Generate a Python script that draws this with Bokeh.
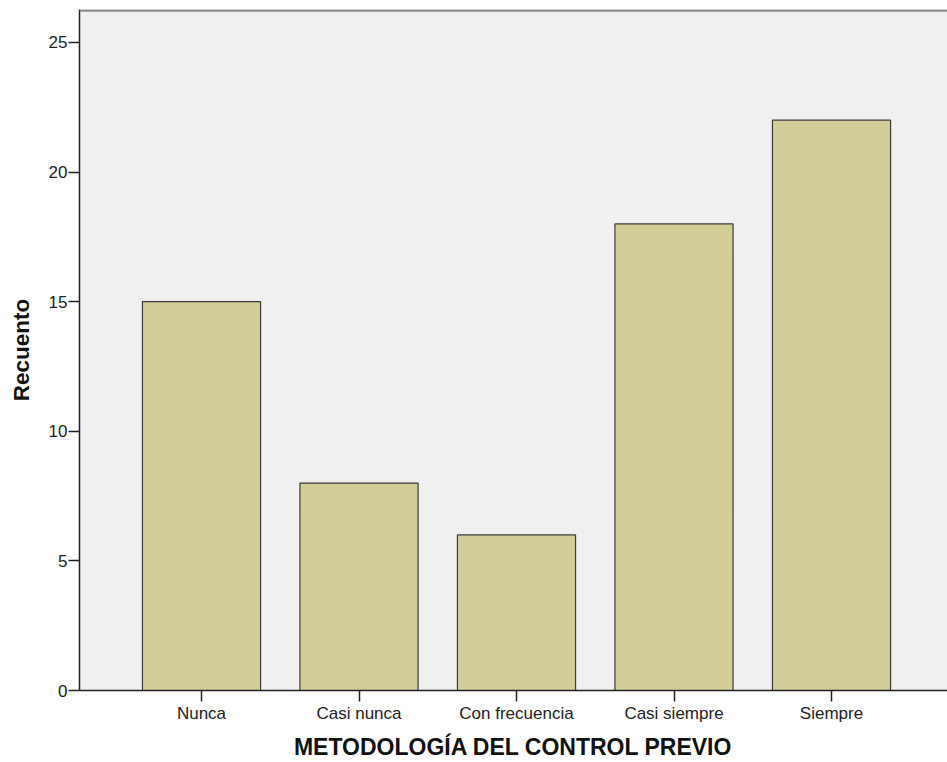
from bokeh.plotting import figure
from bokeh.models import ColumnDataSource, FixedTicker, Range1d, Span
from bokeh.embed import file_html
from bokeh.resources import INLINE

categories = ["Nunca", "Casi nunca", "Con frecuencia", "Casi siempre", "Siempre"]
counts = [15, 8, 6, 18, 22]
positions = [1, 2, 3, 4, 5]
y_ticks = [0, 5, 10, 15, 20, 25]

src = ColumnDataSource(dict(x=positions, top=counts))

p = figure(width=947, height=762, output_backend="svg", toolbar_location=None,
           x_range=Range1d(0.2254, 5.7365), y_range=Range1d(0, 26.27),
           min_border_left=79, min_border_right=0, min_border_top=9, min_border_bottom=72)

p.background_fill_color = "#F0F0F0"
p.border_fill_color = "white"
p.outline_line_color = None
p.xgrid.visible = False
p.ygrid.visible = False

p.vbar(x="x", top="top", width=0.75, bottom=0, source=src,
       fill_color="#D3CE97", line_color="#3A3A3A", line_width=1.2)

p.add_layout(Span(location=26.23, dimension="width", line_color="#8C8C8C", line_width=2.5))

p.xaxis.ticker = FixedTicker(ticks=positions)
p.xaxis.major_label_overrides = {pos: lab for pos, lab in zip(positions, categories)}
p.yaxis.ticker = FixedTicker(ticks=y_ticks)

for ax in (p.xaxis, p.yaxis):
    ax.axis_line_color = "#222222"
    ax.axis_line_width = 1.5
    ax.major_tick_line_color = "#222222"
    ax.major_tick_line_width = 1.5
    ax.major_tick_in = 0
    ax.major_tick_out = 11
    ax.minor_tick_line_color = None
    ax.major_label_text_font = "Liberation Sans"
    ax.major_label_text_font_size = "17px"
    ax.major_label_text_color = "#222222"
    ax.axis_label_text_font = "Liberation Sans"
    ax.axis_label_text_font_style = "bold"
    ax.axis_label_text_color = "#111111"

p.xaxis.major_label_standoff = 2
p.yaxis.major_label_standoff = 1
p.xaxis.axis_label = "METODOLOGÍA DEL CONTROL PREVIO"
p.xaxis.axis_label_text_font_size = "23px"
p.xaxis.axis_label_standoff = 8
p.yaxis.axis_label = "Recuento"
p.yaxis.axis_label_text_font_size = "22.5px"
p.yaxis.axis_label_standoff = 12

open("out.html", "w").write(file_html(p, INLINE))
